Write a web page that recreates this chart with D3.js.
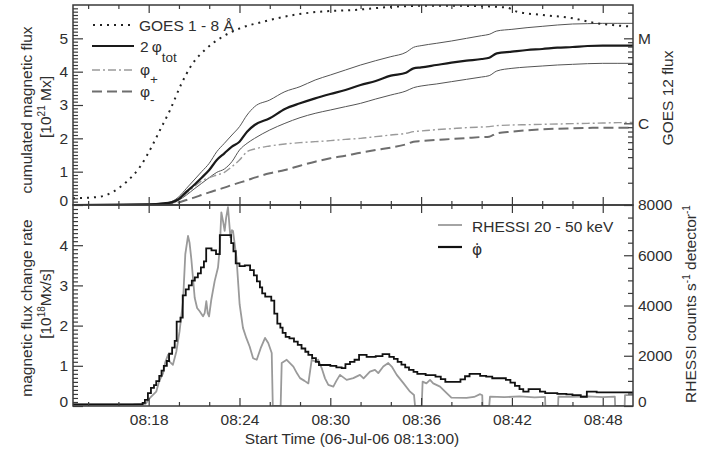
<!DOCTYPE html>
<html>
<head>
<meta charset="utf-8">
<script src="https://cdn.jsdelivr.net/npm/d3@7"></script>
<style>
  html, body { margin: 0; padding: 0; background: #ffffff; }
  svg { display: block; font-family: "Liberation Sans", Arial, Helvetica, sans-serif; }
</style>
</head>
<body>
<svg id="chart" width="723" height="449"></svg>
<script>
// ---------- data (time in minutes after 08:13:00) ----------
const startClock = "08:13";
const timeTickLabels = ["08:18", "08:24", "08:30", "08:36", "08:42", "08:48"];

// cumulated magnetic flux [10^21 Mx], sampled on a common time grid
const fluxTime  = [0, 5, 6, 6.5, 7, 7.5, 8, 8.5, 9, 9.5, 10, 10.5, 11, 11.5, 12, 13, 14, 15, 16, 17, 18, 19, 20, 21, 22, 22.5, 23, 24, 25, 26, 27, 27.5, 28, 29, 30, 31, 32, 33, 34, 35, 36, 37];
const fluxTot   = [0, 0.02, 0.05, 0.08, 0.18, 0.4, 0.6, 0.82, 1.05, 1.35, 1.55, 1.75, 1.9, 2.2, 2.4, 2.6, 2.88, 3.05, 3.2, 3.33, 3.45, 3.6, 3.72, 3.88, 3.97, 4.1, 4.13, 4.2, 4.27, 4.33, 4.38, 4.42, 4.55, 4.6, 4.65, 4.68, 4.72, 4.74, 4.77, 4.78, 4.78, 4.78];
const fluxTotHi = [0, 0.03, 0.06, 0.1, 0.25, 0.5, 0.75, 1.0, 1.25, 1.6, 1.85, 2.1, 2.35, 2.7, 2.95, 3.15, 3.4, 3.55, 3.75, 3.9, 4.05, 4.2, 4.33, 4.45, 4.58, 4.73, 4.78, 4.85, 4.92, 5.0, 5.08, 5.12, 5.22, 5.27, 5.32, 5.36, 5.4, 5.43, 5.44, 5.45, 5.45, 5.45];
const fluxTotLo = [0, 0.01, 0.04, 0.06, 0.15, 0.3, 0.48, 0.65, 0.82, 0.98, 1.08, 1.3, 1.65, 1.85, 2.0, 2.25, 2.45, 2.62, 2.75, 2.85, 2.95, 3.05, 3.18, 3.3, 3.42, 3.52, 3.57, 3.63, 3.7, 3.77, 3.84, 3.88, 4.02, 4.1, 4.14, 4.17, 4.2, 4.22, 4.24, 4.25, 4.25, 4.25];
const fluxPlus  = [0, 0.01, 0.03, 0.05, 0.15, 0.35, 0.55, 0.72, 0.82, 0.9, 0.98, 1.15, 1.35, 1.6, 1.68, 1.77, 1.83, 1.87, 1.9, 1.93, 1.97, 2.0, 2.05, 2.1, 2.15, 2.2, 2.22, 2.26, 2.29, 2.32, 2.34, 2.35, 2.38, 2.4, 2.41, 2.42, 2.43, 2.44, 2.45, 2.46, 2.47, 2.48];
const fluxMinus = [0, 0, 0, 0.02, 0.08, 0.15, 0.22, 0.3, 0.38, 0.45, 0.52, 0.6, 0.67, 0.74, 0.82, 0.95, 1.05, 1.18, 1.3, 1.4, 1.48, 1.57, 1.65, 1.72, 1.82, 1.9, 1.92, 1.95, 1.98, 2.01, 2.04, 2.05, 2.15, 2.2, 2.24, 2.27, 2.29, 2.3, 2.31, 2.32, 2.32, 2.32];

// GOES 12, 1 - 8 Å flux [W m^-2]
const goesTime = [0, 1.78, 2.66, 3.55, 4.43, 5.2, 5.75, 6.41, 7.18, 7.84, 8.83, 9.71, 11.03, 12.57, 14.56, 16.33, 18.5, 21.14, 23.4, 26.5, 28.66, 29.32, 31.05, 33.04, 34.36, 35.68, 37];
const goesFlux = [1.31e-7, 1.37e-7, 1.57e-7, 2.06e-7, 3.08e-7, 5.31e-7, 8.34e-7, 1.43e-6, 2.96e-6, 4.85e-6, 7.62e-6, 1.0e-5, 1.31e-5, 1.57e-5, 1.88e-5, 2.06e-5, 2.15e-5, 2.35e-5, 2.42e-5, 2.4e-5, 2.3e-5, 2.06e-5, 1.88e-5, 1.72e-5, 1.53e-5, 1.43e-5, 1.37e-5];
const goesClassValues = [1e-6, 1e-5];
const goesClassLabels = ["C", "M"];

// magnetic flux change rate [10^18 Mx/s], one value per step start
const rateTime = [0, 4.6, 4.75, 4.95, 5.15, 5.35, 5.5, 5.7, 5.85, 6.0, 6.2, 6.35, 6.55, 6.72, 6.85, 7.1, 7.25, 7.45, 7.65, 7.85, 8.05, 8.25, 8.45, 8.65, 8.8, 9.15, 9.45, 9.7, 10.45, 10.6, 10.75, 11.0, 11.35, 11.7, 11.95, 12.15, 12.35, 12.5, 12.7, 13.1, 13.3, 13.5, 13.7, 13.85, 14.05, 14.3, 14.6, 14.85, 15.1, 15.35, 15.55, 15.8, 16.05, 16.25, 17.0, 17.4, 17.75, 18.0, 18.3, 18.6, 18.9, 19.4, 20.0, 20.45, 20.9, 21.2, 21.45, 21.7, 21.95, 22.2, 22.5, 22.75, 23.3, 23.95, 24.3, 24.6, 25.0, 25.6, 25.9, 26.2, 26.9, 27.3, 27.7, 28.6, 28.9, 29.2, 29.5, 29.75, 30.1, 30.85, 31.2, 32.0, 32.6, 33.0, 33.55, 33.95, 34.6, 35.5, 37];
const rateValue = [0.04, 0.08, 0.15, 0.32, 0.45, 0.52, 0.62, 0.75, 0.88, 1.0, 1.12, 1.3, 1.45, 1.62, 2.1, 2.2, 2.75, 2.9, 3.0, 3.12, 3.2, 3.3, 3.45, 3.6, 3.92, 3.87, 3.78, 4.25, 4.05, 3.85, 3.55, 3.48, 3.5, 3.38, 3.25, 3.1, 2.95, 2.8, 2.72, 2.62, 2.3, 2.05, 1.95, 1.82, 1.72, 1.68, 1.6, 1.52, 1.43, 1.35, 1.27, 1.19, 1.1, 1.02, 1.0, 0.96, 0.94, 1.04, 1.1, 1.15, 1.27, 1.22, 1.24, 1.29, 1.22, 1.17, 1.1, 1.03, 0.96, 0.9, 0.85, 0.8, 0.77, 0.73, 0.67, 0.6, 0.6, 0.66, 0.74, 0.8, 0.75, 0.73, 0.69, 0.65, 0.58, 0.5, 0.42, 0.36, 0.42, 0.36, 0.32, 0.3, 0.29, 0.27, 0.23, 0.36, 0.34, 0.34, 0.34];

// RHESSI 20 - 50 keV [counts s^-1 detector^-1]
const hxrTime = [0, 2, 4, 4.8, 5.07, 5.3, 5.5, 5.7, 5.95, 6.1, 6.28, 6.38, 6.6, 6.83, 7.04, 7.27, 7.42, 7.6, 7.7, 7.82, 8.04, 8.2, 8.37, 8.5, 8.59, 8.7, 8.81, 8.9, 8.99, 9.14, 9.36, 9.58, 9.7, 9.8, 9.9, 10.02, 10.12, 10.24, 10.4, 10.5, 10.57, 10.8, 11.01, 11.23, 11.45, 11.67, 11.9, 12.14, 12.4, 12.69, 12.9, 13.13, 13.2, 13.72, 13.79, 14.12, 14.35, 14.56, 14.8, 15.0, 15.3, 15.55, 15.77, 15.99, 16.2, 16.43, 16.65, 16.87, 17.2, 17.4, 17.64, 18.08, 18.52, 18.96, 19.2, 19.62, 19.95, 20.17, 20.5, 20.83, 21.06, 21.39, 21.83, 22.27, 22.53, 22.6, 23.04, 23.1, 23.35, 23.59, 23.8, 24.25, 24.69, 25.0, 26.0, 26.5, 26.9, 27.04, 27.06, 27.5, 27.55, 28.5, 29.5, 30.5, 31.19, 31.21, 32.05, 32.07, 33, 34, 35, 35.8, 35.82, 36.45, 36.47, 37];
const hxrCounts = [60, 60, 70, 90, 310, 450, 570, 1000, 1300, 1750, 2040, 1770, 1640, 2170, 2970, 4170, 6040, 6770, 6500, 5840, 4310, 3900, 3770, 3650, 3570, 3700, 4170, 3700, 3570, 4240, 4970, 5510, 6300, 7710, 7400, 6970, 7500, 7910, 6710, 7000, 6970, 5910, 4040, 3110, 2710, 2370, 1900, 1840, 2300, 2710, 2510, 2110, 0, 0, 1710, 1840, 1700, 1570, 1300, 1110, 1000, 900, 1840, 1770, 1840, 1510, 1100, 840, 770, 1000, 1240, 1040, 1110, 1240, 1100, 1370, 1440, 1310, 1570, 1710, 1570, 1240, 910, 570, 440, 0, 0, 970, 900, 1040, 900, 770, 510, 330, 320, 360, 470, 430, 0, 0, 370, 350, 380, 340, 360, 0, 0, 370, 360, 380, 350, 370, 0, 0, 430, 430];

const counterTicks = [0, 2000, 4000, 6000, 8000];

// ---------- layout ----------
const svg = d3.select("#chart");
const plotL = 73, plotR = 633, plotT = 5, plotM = 205, plotB = 406;
const ink = "#3a3a3a";
const textInk = "#2e2e2e";
const fontSize = 15.5;

const x = d3.scaleLinear().domain([0, 37]).range([plotL, plotR]);
const yCum = d3.scaleLinear().domain([0, 6]).range([plotM, plotT]);
const yGoes = d3.scaleLog().domain([1.094e-7, 2.466e-5]).range([plotM, plotT]);
const yRate = d3.scaleLinear().domain([0, 5]).range([plotB, plotM]);
const yCounts = d3.scaleLinear().domain([0, 8000]).range([plotB, plotM]);

const clockToMin = s => { const [h, m] = s.split(":").map(Number); return h * 60 + m; };
const t0 = clockToMin(startClock);
const majorT = timeTickLabels.map(s => clockToMin(s) - t0);
const minorT = d3.range(1, 37, 2).filter(t => !majorT.includes(t));

// clip regions for the two panels
const defs = svg.append("defs");
defs.append("clipPath").attr("id", "clipTop").append("rect")
  .attr("x", plotL).attr("y", plotT).attr("width", plotR - plotL).attr("height", plotM - plotT);
defs.append("clipPath").attr("id", "clipBot").append("rect")
  .attr("x", plotL).attr("y", plotM).attr("width", plotR - plotL).attr("height", plotB - plotM);

function styleAxis(g) {
  g.select(".domain").remove();
  g.selectAll(".tick line").attr("stroke", ink).attr("stroke-width", 1.2);
  g.selectAll("text").attr("fill", textInk).attr("font-size", fontSize)
    .attr("font-family", "'Liberation Sans', Arial, sans-serif");
}
function addAxis(axis, tx, ty) {
  return svg.append("g").attr("transform", `translate(${tx},${ty})`).call(axis).call(styleAxis);
}

// ---------- top panel: cumulated flux ----------
const gTop = svg.append("g").attr("clip-path", "url(#clipTop)");
const cumLine = vals => d3.line()
  .x((d, i) => x(fluxTime[i])).y(d => yCum(d)).curve(d3.curveMonotoneX)(vals);

gTop.append("path").attr("d", cumLine(fluxTotHi)).attr("fill", "none").attr("stroke", "#555").attr("stroke-width", 1);
gTop.append("path").attr("d", cumLine(fluxTotLo)).attr("fill", "none").attr("stroke", "#555").attr("stroke-width", 1);
gTop.append("path").attr("d", cumLine(fluxPlus)).attr("fill", "none").attr("stroke", "#9a9a9a")
  .attr("stroke-width", 1.4).attr("stroke-dasharray", "8,3,2,3");
gTop.append("path").attr("d", cumLine(fluxMinus)).attr("fill", "none").attr("stroke", "#6e6e6e")
  .attr("stroke-width", 2).attr("stroke-dasharray", "10,5");
gTop.append("path").attr("d", cumLine(fluxTot)).attr("fill", "none").attr("stroke", "#1a1a1a").attr("stroke-width", 2.2);

const goesLine = d3.line().x((d, i) => x(goesTime[i])).y(d => yGoes(d)).curve(d3.curveMonotoneX);
gTop.append("path").attr("d", goesLine(goesFlux)).attr("fill", "none").attr("stroke", "#222")
  .attr("stroke-width", 2).attr("stroke-dasharray", "2,5");

// ---------- bottom panel: flux change rate and hard X-rays ----------
const gBot = svg.append("g").attr("clip-path", "url(#clipBot)");
const hxrLine = d3.line().x((d, i) => x(hxrTime[i])).y(d => yCounts(d));
gBot.append("path").attr("d", hxrLine(hxrCounts)).attr("fill", "none").attr("stroke", "#9a9a9a")
  .attr("stroke-width", 1.8).attr("stroke-linejoin", "round");
const rateLine = d3.line().x((d, i) => x(rateTime[i])).y(d => yRate(d)).curve(d3.curveStepAfter);
gBot.append("path").attr("d", rateLine(rateValue)).attr("fill", "none").attr("stroke", "#111")
  .attr("stroke-width", 1.8);

// ---------- axes (ticks point inward) ----------
addAxis(d3.axisTop(x).tickValues(majorT).tickSize(-8).tickFormat(""), 0, plotT);
addAxis(d3.axisTop(x).tickValues(minorT).tickSize(-4).tickFormat(""), 0, plotT);
addAxis(d3.axisBottom(x).tickValues(majorT).tickSize(-8).tickFormat(""), 0, plotM);
addAxis(d3.axisBottom(x).tickValues(minorT).tickSize(-4).tickFormat(""), 0, plotM);
addAxis(d3.axisTop(x).tickValues(majorT).tickSize(-8).tickFormat(""), 0, plotM);
addAxis(d3.axisTop(x).tickValues(minorT).tickSize(-4).tickFormat(""), 0, plotM);
addAxis(d3.axisBottom(x).tickValues(majorT).tickSize(-8).tickPadding(8)
  .tickFormat((d, i) => timeTickLabels[i]), 0, plotB);
addAxis(d3.axisBottom(x).tickValues(minorT).tickSize(-4).tickFormat(""), 0, plotB);

// left axis, top panel
const cumMajor = d3.range(0, 6);
const cumMinor = d3.range(1, 60).filter(i => i % 10 !== 0).map(i => i / 10);
addAxis(d3.axisLeft(yCum).tickValues(cumMajor).tickSize(-10).tickPadding(5).tickFormat(d3.format("d")), plotL, 0)
  .selectAll(".tick").filter(d => d === 0).select("text").attr("dy", "0.0em");
addAxis(d3.axisLeft(yCum).tickValues(cumMinor).tickSize(-5).tickFormat(""), plotL, 0);

// left axis, bottom panel
const rateMajor = d3.range(0, 5);
const rateMinor = d3.range(1, 50).filter(i => i % 10 !== 0).map(i => i / 10);
addAxis(d3.axisLeft(yRate).tickValues(rateMajor).tickSize(-10).tickPadding(5).tickFormat(d3.format("d")), plotL, 0)
  .selectAll(".tick").filter(d => d === 0).select("text").attr("dy", "0.05em");
addAxis(d3.axisLeft(yRate).tickValues(rateMinor).tickSize(-5).tickFormat(""), plotL, 0);

// right axis, top panel: GOES class (log scale)
const goesMinor = [];
[1e-7, 1e-6, 1e-5].forEach(dec => d3.range(2, 10).forEach(k => {
  const v = k * dec; if (v > yGoes.domain()[0] && v < yGoes.domain()[1]) goesMinor.push(v);
}));
addAxis(d3.axisRight(yGoes).tickValues(goesClassValues).tickSize(-9).tickPadding(5)
  .tickFormat((d, i) => goesClassLabels[i]), plotR, 0);
addAxis(d3.axisRight(yGoes).tickValues(goesMinor).tickSize(-5).tickFormat(""), plotR, 0);

// right axis, bottom panel: RHESSI counts
const countMinor = d3.range(500, 8000, 500).filter(v => v % 2000 !== 0);
addAxis(d3.axisRight(yCounts).tickValues(counterTicks).tickSize(-9).tickPadding(5).tickFormat(d3.format("d")), plotR, 0)
  .selectAll(".tick").filter(d => d === 0).select("text").attr("dy", "0.0em");
addAxis(d3.axisRight(yCounts).tickValues(countMinor).tickSize(-5).tickFormat(""), plotR, 0);

// panel frames
[[plotT, plotM], [plotM, plotB]].forEach(([a, b]) => {
  svg.append("rect").attr("x", plotL).attr("y", a).attr("width", plotR - plotL).attr("height", b - a)
    .attr("fill", "none").attr("stroke", ink).attr("stroke-width", 1.5);
});

// ---------- axis titles ----------
function vText(xb, yc, build) {
  const t = svg.append("text").attr("transform", `translate(${xb},${yc}) rotate(-90)`)
    .attr("text-anchor", "middle").attr("fill", textInk).attr("font-size", fontSize);
  build(t);
  return t;
}
vText(31.5, 110, t => t.text("cumulated magnetic flux"));
vText(51, 107, t => {
  t.append("tspan").text("[10");
  t.append("tspan").attr("dy", -6).attr("font-size", 10).text("21");
  t.append("tspan").attr("dy", 6).text(" Mx]");
});
vText(31.5, 308, t => t.text("magnetic flux change rate"));
vText(51, 304, t => {
  t.append("tspan").text("[10");
  t.append("tspan").attr("dy", -6).attr("font-size", 10).text("18");
  t.append("tspan").attr("dy", 6).text("Mx/s]");
});
vText(673, 98, t => t.text("GOES 12 flux"));
vText(696, 304, t => {
  t.append("tspan").text("RHESSI counts  s");
  t.append("tspan").attr("dy", -6).attr("font-size", 10).text("-1");
  t.append("tspan").attr("dy", 6).text(" detector");
  t.append("tspan").attr("dy", -6).attr("font-size", 10).text("-1");
});
svg.append("text").attr("x", 352).attr("y", 444).attr("text-anchor", "middle")
  .attr("fill", textInk).attr("font-size", fontSize).text("Start Time (06-Jul-06 08:13:00)");

// ---------- legends ----------
const lg = svg.append("g");
function legendSample(y, stroke, width, dash, x1, x2) {
  lg.append("line").attr("x1", x1).attr("x2", x2).attr("y1", y).attr("y2", y)
    .attr("stroke", stroke).attr("stroke-width", width).attr("stroke-dasharray", dash);
}
function legendLabel(xp, yp, main, sub, subDy) {
  const t = lg.append("text").attr("x", xp).attr("y", yp).attr("fill", textInk).attr("font-size", fontSize);
  t.append("tspan").text(main);
  if (sub) t.append("tspan").attr("dy", subDy).attr("font-size", 13.5).text(sub);
  return t;
}
legendSample(25, "#222", 2, "2,5", 93, 134);
legendSample(46, "#1a1a1a", 2.2, null, 92, 134);
legendSample(70, "#9a9a9a", 1.4, "8,3,2,3", 92, 134);
legendSample(91.5, "#6e6e6e", 2, "10,5", 92, 134);

legendLabel(139, 30.5, "GOES 1 - 8 Å");
legendLabel(140, 52, "2\u2009φ", "tot", 9.5);
legendLabel(140, 74.5, "φ", "+", 9);
legendLabel(140, 97, "φ", "-", 7);

legendSample(225, "#9a9a9a", 1.8, null, 438, 462);
legendSample(247, "#111", 2.2, null, 438, 462);
legendLabel(472, 231.5, "RHESSI 20 - 50 keV");
legendLabel(472, 255, "φ\u0307").attr("font-family", "'DejaVu Sans', 'Liberation Sans', sans-serif");
</script>
</body>
</html>
